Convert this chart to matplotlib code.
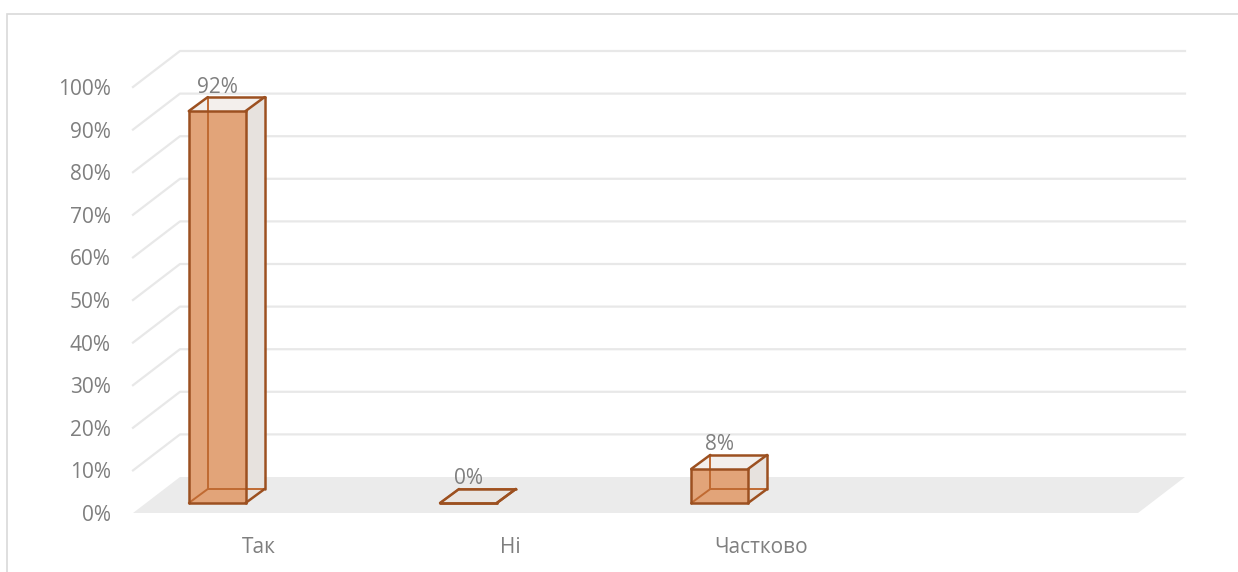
import matplotlib
matplotlib.use("Agg")
import matplotlib.pyplot as plt
from matplotlib.patches import Polygon, Rectangle
from matplotlib.transforms import ScaledTranslation, IdentityTransform
from matplotlib import rcParams

rcParams['font.family'] = ['Open Sans', 'DejaVu Sans']
rcParams['font.size'] = 15

# data
categories = ['Так', 'Ні', 'Частково', '']
values = [92, 0, 8]
yticks = list(range(0, 101, 10))

W, H = 1238, 572
fig = plt.figure(figsize=(W / 100, H / 100), dpi=100)
ax = fig.add_axes([133 / W, (H - 513) / H, (1138 - 133) / W, (513 - 87) / H])
ax.set_xlim(-0.5, len(categories) - 0.5)
ax.set_ylim(0, 100)
ax.patch.set_visible(False)
for s in ax.spines.values():
    s.set_visible(False)

txt = '#7f7f7f'
ax.set_yticks(yticks)
ax.set_yticklabels([f'{v}%' for v in yticks])
ax.set_xticks(range(len(categories)))
ax.set_xticklabels(categories)
ax.tick_params(axis='y', length=0, pad=16, colors=txt, labelsize=15)
ax.tick_params(axis='x', length=0, pad=17.5, colors=txt, labelsize=15)

# chart frame
fig.patches.append(Rectangle((7 / W, -0.1), 1.2, (H - 14) / H + 0.1, transform=fig.transFigure,
                             fill=False, ec='#d9d9d9', lw=1.2))


def off(dx, dy):
    # data transform shifted by pixels (depth of the 3d view)
    return ax.transData + ScaledTranslation(dx / 100, dy / 100, fig.dpi_scale_trans)


def pts(tr, xy):
    return tr.transform(xy)


front = off(0, 0)
back = off(47, 36)
x0, x1 = ax.get_xlim()

# floor
fl = [*pts(front, [(x0, 0), (x1, 0)]), *pts(back, [(x1, 0), (x0, 0)])]
ax.add_patch(Polygon(fl, closed=True, transform=IdentityTransform(), fc='#ebebeb', ec='none',
                     zorder=1, clip_on=False))

# back wall + side wall gridlines
for v in yticks[1:]:
    a = pts(back, [(x0, v), (x1, v)])
    f = pts(front, [(x0, v)])
    ax.plot([f[0][0], a[0][0], a[1][0]], [f[0][1], a[0][1], a[1][1]], transform=IdentityTransform(),
            color='#e8e8e8', lw=1.6, zorder=1, clip_on=False)

# bars
bf = off(0, 10)
bb = off(19, 24)
edge = '#9c5020'
inner = '#c06a32'
bw = 0.226
for i, v in enumerate(values):
    l, r = i - 0.278, i - 0.278 + bw
    fbl, fbr, ftr, ftl = pts(bf, [(l, 0), (r, 0), (r, v), (l, v)])
    bbl, bbr, btr, btl = pts(bb, [(l, 0), (r, 0), (r, v), (l, v)])
    kw = dict(transform=IdentityTransform(), closed=True, clip_on=False, zorder=3)
    ax.add_patch(Polygon([fbr, bbr, btr, ftr], fc='#e7e2de', ec='none', **kw))
    ax.add_patch(Polygon([ftl, ftr, btr, btl], fc='#f3efec' if v > 0 else '#e9e5e2', ec='none', **kw))
    ax.add_patch(Polygon([fbl, fbr, ftr, ftl], fc='#e2a479', ec='none', **kw))
    for p, q in [(bbl, btl), (bbl, bbr), (fbl, bbl)]:
        ax.plot([p[0], q[0]], [p[1], q[1]], transform=IdentityTransform(), color=inner,
                lw=1.4, zorder=4, clip_on=False, solid_capstyle='round')
    for p, q in [(fbl, fbr), (fbr, ftr), (ftr, ftl), (ftl, fbl), (ftl, btl), (btl, btr),
                 (btr, ftr), (btr, bbr), (bbr, fbr)]:
        ax.plot([p[0], q[0]], [p[1], q[1]], transform=IdentityTransform(), color=edge,
                lw=1.8, zorder=5, clip_on=False, solid_capstyle='round')
    ax.annotate(f'{v}%', xy=((l + r) / 2, v), xycoords=bf, xytext=(0, 24),
                textcoords='offset pixels', ha='center', va='center', color=txt, fontsize=15)

fig.savefig('out.png', dpi=100)
